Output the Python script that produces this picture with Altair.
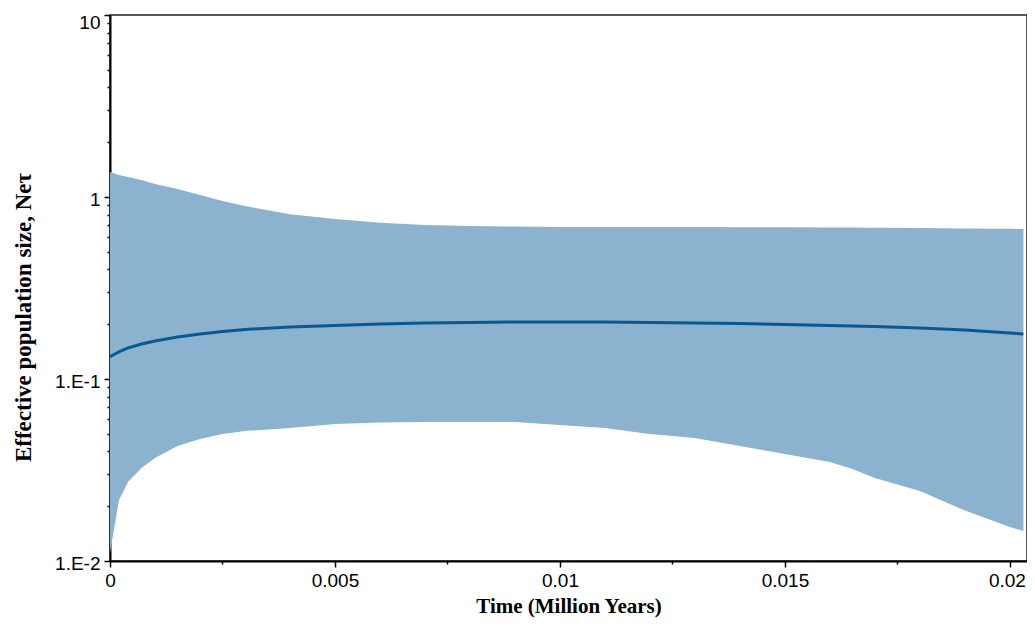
import altair as alt
import pandas as pd

# Time (Million Years)
time = [0, 0.0002, 0.0004, 0.0007, 0.001, 0.0015, 0.002, 0.0025, 0.003, 0.004,
        0.005, 0.006, 0.007, 0.008, 0.009, 0.01, 0.011, 0.012, 0.013, 0.014,
        0.015, 0.016, 0.0165, 0.017, 0.018, 0.019, 0.02, 0.0203]
# upper 95% HPD
upper = [1.372, 1.321, 1.288, 1.240, 1.179, 1.106, 1.026, 0.951, 0.892, 0.805,
         0.758, 0.722, 0.702, 0.693, 0.688, 0.685, 0.684, 0.684, 0.684, 0.683,
         0.682, 0.680, 0.679, 0.678, 0.675, 0.672, 0.669, 0.667]
# median
median = [0.1326, 0.1408, 0.1481, 0.1557, 0.1618, 0.1702, 0.1768, 0.1824, 0.1871, 0.1931,
          0.1968, 0.2005, 0.2031, 0.2044, 0.2057, 0.2057, 0.2057, 0.2044, 0.2031, 0.2018,
          0.1993, 0.1968, 0.1956, 0.1943, 0.1906, 0.1859, 0.1790, 0.1768]
# lower 95% HPD
lower = [0.01106, 0.02163, 0.02716, 0.03243, 0.03681, 0.04285, 0.04681, 0.04989, 0.05180, 0.05381,
         0.05656, 0.05766, 0.05803, 0.05803, 0.05803, 0.05590, 0.05381, 0.04989, 0.04741, 0.04285,
         0.03873, 0.03499, 0.03200, 0.02857, 0.02427, 0.01893, 0.01538, 0.01462]

x_ticks = [0, 0.0025, 0.005, 0.0075, 0.01, 0.0125, 0.015, 0.0175, 0.02]
y_ticks = [round(k * 10.0 ** e, 10) for e in (-2, -1, 0) for k in range(1, 10)] + [10]

df = pd.DataFrame({"time": time, "upper": upper, "median": median, "lower": lower})

FILL = "#8BB2CE"
LINE = "#0C5891"

x_scale = alt.Scale(domain=[0, 0.02038], nice=False, zero=True)
y_scale = alt.Scale(type="log", domain=[0.01, 10], nice=False)

x_major = "abs(datum.value*200 - round(datum.value*200)) < 1e-6"
y_major = "abs(log(datum.value)/LN10 - round(log(datum.value)/LN10)) < 1e-6"

x_axis = alt.Axis(
    title="Time (Million Years)",
    values=x_ticks,
    labelExpr=f"({x_major}) ? format(datum.value, '~g') : ''",
    labelOffset={"condition": {"test": "datum.value > 0.019", "value": -3}, "value": 0},
    tickSize={"condition": {"test": x_major, "value": 6}, "value": 3},
    grid=False, labelOverlap=False, labelFlush=False,
    labelFont="Liberation Sans", labelFontSize=19, labelColor="black", labelPadding=4,
    titleFont="Liberation Serif", titleFontSize=21, titleFontWeight="bold", titleColor="black",
    titlePadding=5,
    domainColor="black", domainWidth=2, tickColor="black", tickWidth=1.5,
)
y_axis = alt.Axis(
    title="Effective population size, Neτ",
    values=y_ticks,
    labelExpr=("datum.value == 10 ? '10' : datum.value == 1 ? '1' : "
               "datum.value == 0.1 ? '1.E-1' : datum.value == 0.01 ? '1.E-2' : ''"),
    labelBaseline={"condition": {"test": "datum.value == 10", "value": "top"}, "value": "middle"},
    labelOffset={"condition": {"test": "datum.value == 10", "value": -2}, "value": 2},
    tickSize={"condition": {"test": y_major, "value": 6}, "value": 3},
    grid=False, labelOverlap=False, labelFlush=False,
    labelFont="Liberation Sans", labelFontSize=19, labelColor="black", labelPadding=4,
    titleFont="Liberation Serif", titleFontSize=23, titleFontWeight="bold", titleColor="black",
    titlePadding=19, titleY=302,
    domainColor="black", domainWidth=2, tickColor="black", tickWidth=1.5,
)

band = alt.Chart(df).mark_area(color=FILL, opacity=1).encode(
    x=alt.X("time:Q", scale=x_scale, axis=x_axis),
    y=alt.Y("upper:Q", scale=y_scale, axis=y_axis),
    y2="lower:Q",
)
line = alt.Chart(df).mark_line(color=LINE, strokeWidth=3).encode(
    x=alt.X("time:Q", scale=x_scale),
    y=alt.Y("median:Q", scale=y_scale),
)

chart = (band + line).properties(
    width=917, height=546,
    padding={"left": 102, "top": 7, "right": 0, "bottom": 58},
    autosize=alt.AutoSizeParams(type="none"),
).configure_view(stroke="#222222", strokeWidth=1.5)

chart.save("out.html", embed_options={"renderer": "svg", "actions": False})
